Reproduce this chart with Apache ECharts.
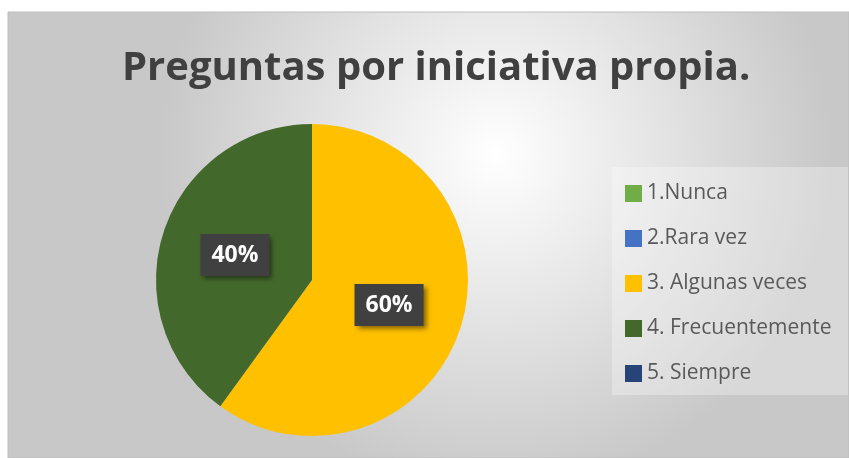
<!DOCTYPE html>
<html>
<head>
<meta charset="utf-8">
<script src="https://cdn.jsdelivr.net/npm/echarts@6/dist/echarts.min.js"></script>
<style>
  html, body { margin: 0; padding: 0; background: #fff; }
  #chart { width: 849px; height: 458px; }
</style>
</head>
<body>
<div id="chart"></div>
<script>
// datos de la encuesta
var categorias = ['1.Nunca', '2.Rara vez', '3. Algunas veces', '4. Frecuentemente', '5. Siempre'];
var valores = [0, 0, 60, 40, 0];
var colores = ['#70AD47', '#4472C4', '#FFC000', '#43682B', '#264478'];

var chart = echarts.init(document.getElementById('chart'));

var datos = categorias.map(function (c, i) {
  return {
    name: c,
    value: valores[i],
    itemStyle: { color: colores[i] },
    label: { show: valores[i] > 0 }
  };
});

var option = {
  backgroundColor: '#ffffff',
  graphic: [
    {
      type: 'rect',
      z: -10,
      shape: { x: 8, y: 12, width: 841, height: 446 },
      style: {
        fill: new echarts.graphic.RadialGradient(0.58, 0.32, 0.75, [
          { offset: 0, color: '#ffffff' },
          { offset: 1, color: '#c8c8c8' }
        ]),
        stroke: '#bdbdbd',
        lineWidth: 1
      },
      silent: true
    },
    {
      type: 'rect',
      z: -9,
      shape: { x: 612, y: 167, width: 236, height: 228 },
      style: { fill: 'rgba(255,255,255,0.3)' },
      silent: true
    }
  ],
  title: {
    text: 'Preguntas por iniciativa propia.',
    left: 117,
    top: 44,
    textStyle: {
      fontFamily: 'Open Sans',
      fontWeight: 'bold',
      fontSize: 40,
      color: '#404040'
    }
  },
  legend: {
    orient: 'vertical',
    left: 620,
    top: 178,
    itemWidth: 17,
    itemHeight: 17,
    itemGap: 24,
    icon: 'rect',
    data: categorias,
    textStyle: {
      fontFamily: 'Open Sans',
      fontSize: 21,
      lineHeight: 20,
      color: '#595959',
      padding: [0, 0, 0, 0]
    }
  },
  series: [
    {
      type: 'pie',
      center: [312, 280],
      radius: 156,
      startAngle: 90,
      clockwise: true,
      avoidLabelOverlap: false,
      label: {
        position: 'inside',
        formatter: function (p) { return p.percent + '%'; },
        color: '#ffffff',
        fontFamily: 'Open Sans',
        fontWeight: 'bold',
        fontSize: 23,
        lineHeight: 23,
        backgroundColor: '#404040',
        padding: [10, 11, 9, 11],
        shadowColor: 'rgba(0,0,0,0.5)',
        shadowBlur: 5,
        shadowOffsetX: 3,
        shadowOffsetY: 3
      },
      labelLine: { show: false },
      emphasis: { disabled: true },
      data: datos
    }
  ]
};

chart.setOption(option);
</script>
</body>
</html>
